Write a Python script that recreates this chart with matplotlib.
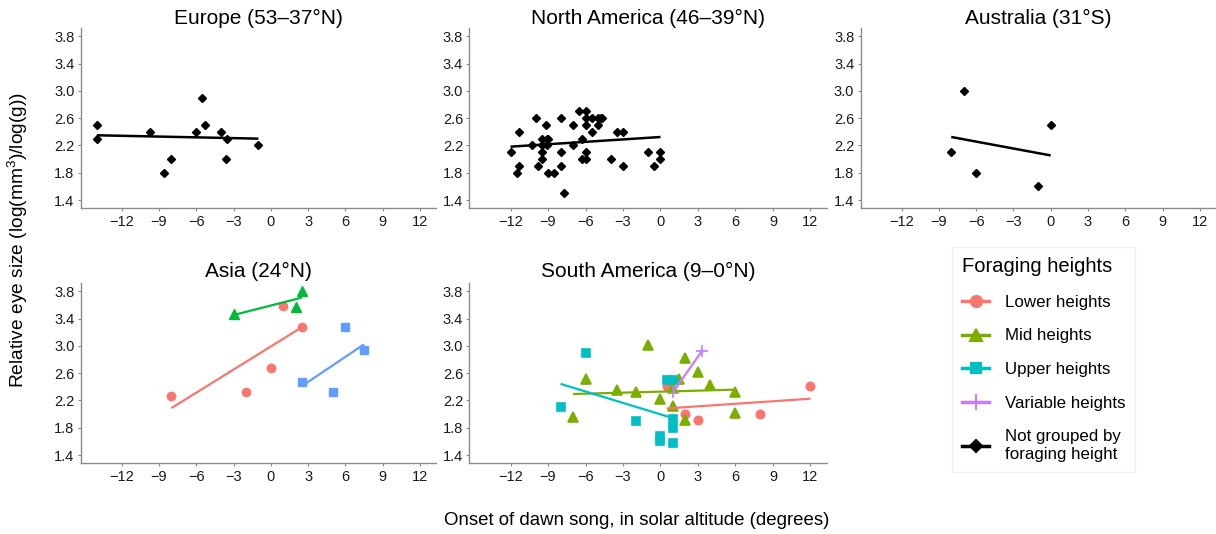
import numpy as np
import matplotlib
matplotlib.use("Agg")
import matplotlib.pyplot as plt
from matplotlib.lines import Line2D

plt.rcParams["font.family"] = ["Liberation Sans", "DejaVu Sans"]
plt.rcParams["mathtext.default"] = "regular"

# --- data ---
europe_x = [-14, -14, -9.7, -8.6, -8, -6, -5.5, -5.3, -4, -3.5, -3.6, -1]
europe_y = [2.5, 2.3, 2.4, 1.8, 2.0, 2.4, 2.9, 2.5, 2.4, 2.3, 2.0, 2.2]

namerica_x = [-12, -11.3, -11.3, -11.5, -10.3, -10, -9.8, -9.5, -9.5, -9.5, -9.5,
              -9.2, -9.1, -9.0, -9.05, -9.0, -8.5, -8, -8, -8, -7.7, -7, -7,
              -6.5, -6.3, -6.3, -6, -6, -6, -6, -6, -5.5, -5.5, -5, -5, -4.8,
              -4.7, -4, -3.5, -3, -3, -1, -0.5, 0, 0]
namerica_y = [2.1, 2.4, 1.9, 1.8, 2.2, 2.6, 1.9, 2.3, 2.2, 2.1, 2.0,
              2.5, 2.3, 2.3, 2.2, 1.8, 1.8, 2.6, 2.1, 1.9, 1.5, 2.5, 2.2,
              2.7, 2.3, 2.0, 2.7, 2.6, 2.5, 2.1, 2.0, 2.4, 2.6, 2.6, 2.5, 2.6,
              2.6, 2.0, 2.4, 2.4, 1.9, 2.1, 1.9, 2.1, 2.0]

australia_x = [-7, 0, -8, -6, -1]
australia_y = [3.0, 2.5, 2.1, 1.8, 1.6]

asia_lower_x = [-8, -2, 0, 1, 2.5]
asia_lower_y = [2.27, 2.33, 2.68, 3.58, 3.27]
asia_mid_x = [-3, 2, 2.5]
asia_mid_y = [3.46, 3.57, 3.81]
asia_upper_x = [2.5, 5, 6, 7.5]
asia_upper_y = [2.47, 2.33, 3.27, 2.94]

sa_lower_x = [0.5, 2, 3, 8, 12]
sa_lower_y = [2.41, 2.0, 1.91, 2.0, 2.41]
sa_mid_x = [-1, -6, -7, -3.5, -2, 0, 1, 1, 1.5, 2, 2, 3, 4, 6, 6]
sa_mid_y = [3.01, 2.51, 1.96, 2.35, 2.32, 2.22, 2.38, 2.12, 2.52, 2.82, 1.92,
            2.62, 2.42, 2.32, 2.02]
sa_upper_x = [-6, -8, -2, 0.5, 1, 1, 1, 1, 0, 0]
sa_upper_y = [2.9, 2.1, 1.9, 2.5, 2.5, 1.93, 1.8, 1.58, 1.68, 1.61]
sa_var_x = [1.0, 3.3]
sa_var_y = [2.32, 2.92]

# fitted lines (slope, intercept)
europe_fit = (-0.0038, 2.296)
namerica_fit = (0.0118, 2.324)
australia_fit = (-0.0338, 2.054)
asia_fits = [(0.1127, 2.99), (0.0464, 3.59), (0.1223, 2.104)]
sa_fits = [(0.0124, 2.077), (0.0049, 2.329), (-0.0557, 1.997), (0.261, 2.059)]

titles = ["Europe (53–37°N)", "North America (46–39°N)", "Australia (31°S)",
          "Asia (24°N)", "South America (9–0°N)"]
legend_labels = ["Lower heights", "Mid heights", "Upper heights",
                 "Variable heights", "Not grouped by\nforaging height"]

x_ticks = [-12, -9, -6, -3, 0, 3, 6, 9, 12]
y_ticks = [1.4, 1.8, 2.2, 2.6, 3.0, 3.4, 3.8]

asia_cols = ["#F8766D", "#00BA38", "#619CFF"]
sa_cols = ["#F8766D", "#7CAE00", "#00BFC4", "#C77CFF"]

fig = plt.figure(figsize=(12.16, 5.34), dpi=100)

W, H = 1216, 534
cols = [(80.7, 436), (469.3, 826.7), (860.5, 1216)]
rows = [(28, 208.3), (283, 463.3)]


def make_ax(r, c):
    l, rt = cols[c]
    t, b = rows[r]
    ax = fig.add_axes([l / W, 1 - b / H, (rt - l) / W, (b - t) / H])
    ax.set_xlim(-15.3, 13.3)
    ax.set_ylim(1.28, 3.92)
    ax.set_xticks(x_ticks)
    ax.set_yticks(y_ticks)
    ax.set_xticklabels([str(t).replace("-", "\u2212") for t in x_ticks])
    ax.set_yticklabels(["%.1f" % t for t in y_ticks])
    for s in ["top", "right"]:
        ax.spines[s].set_visible(False)
    for s in ["left", "bottom"]:
        ax.spines[s].set_color("#8a8a8a")
        ax.spines[s].set_linewidth(1.0)
    ax.tick_params(length=2.5, width=0.8, color="#8a8a8a", labelsize=10.5,
                   labelcolor="#1a1a1a", pad=2)
    return ax


def fit_line(ax, xs, fit, color, lw=1.6):
    xx = np.array([min(xs), max(xs)])
    ax.plot(xx, fit[1] + fit[0] * xx, color=color, lw=lw, solid_capstyle="butt", zorder=3)


# top row: black diamonds
top = [(europe_x, europe_y, europe_fit), (namerica_x, namerica_y, namerica_fit),
       (australia_x, australia_y, australia_fit)]
for i, (xs, ys, fit) in enumerate(top):
    ax = make_ax(0, i)
    ax.plot(xs, ys, ls="none", marker="D", ms=4.2, color="black", zorder=2)
    fit_line(ax, xs, fit, "black", lw=1.8)
    ax.set_title(titles[i], fontsize=15, pad=3)

# Asia
ax = make_ax(1, 0)
asia = [(asia_lower_x, asia_lower_y, "o", 6), (asia_mid_x, asia_mid_y, "^", 6.5),
        (asia_upper_x, asia_upper_y, "s", 5.2)]
for (xs, ys, m, ms), col, fit in zip(asia, asia_cols, asia_fits):
    ax.plot(xs, ys, ls="none", marker=m, ms=ms, color=col, zorder=2)
    fit_line(ax, xs, fit, col)
ax.set_title(titles[3], fontsize=15, pad=4)

# South America
ax = make_ax(1, 1)
sa = [(sa_lower_x, sa_lower_y, "o", 6), (sa_mid_x, sa_mid_y, "^", 6.5),
      (sa_upper_x, sa_upper_y, "s", 5.2), (sa_var_x, sa_var_y, "+", 9)]
for (xs, ys, m, ms), col, fit in zip(sa, sa_cols, sa_fits):
    ax.plot(xs, ys, ls="none", marker=m, ms=ms, color=col, mew=1.2, zorder=2)
    fit_line(ax, xs, fit, col)
ax.set_title(titles[4], fontsize=15, pad=4)

# legend
markers = ["o", "^", "s", "+", "D"]
msizes = [8, 8.5, 7, 11, 6]
handles = [Line2D([], [], color=c, marker=m, ms=s, lw=2.5, mew=1.5)
           for c, m, s in zip(sa_cols + ["black"], markers, msizes)]
fig.legend(handles, legend_labels, title="Foraging heights", loc="upper left",
           bbox_to_anchor=(952 / W, 1 - 247 / H), borderaxespad=0,
           fontsize=12.2, title_fontsize=14.5, frameon=True, fancybox=False,
           edgecolor="#eeeeee", handlelength=1.6, handletextpad=0.9,
           labelspacing=1.1, borderpad=0.6, alignment="left")

fig.text(637 / W, 0.025, "Onset of dawn song, in solar altitude (degrees)",
         ha="center", va="center", fontsize=13.4)
fig.text(18 / W, 1 - 240 / H, r"Relative eye size (log(mm$^{3}$)/log(g))",
         ha="center", va="center", rotation=90, fontsize=13.8)

fig.savefig("out.png", dpi=100)
